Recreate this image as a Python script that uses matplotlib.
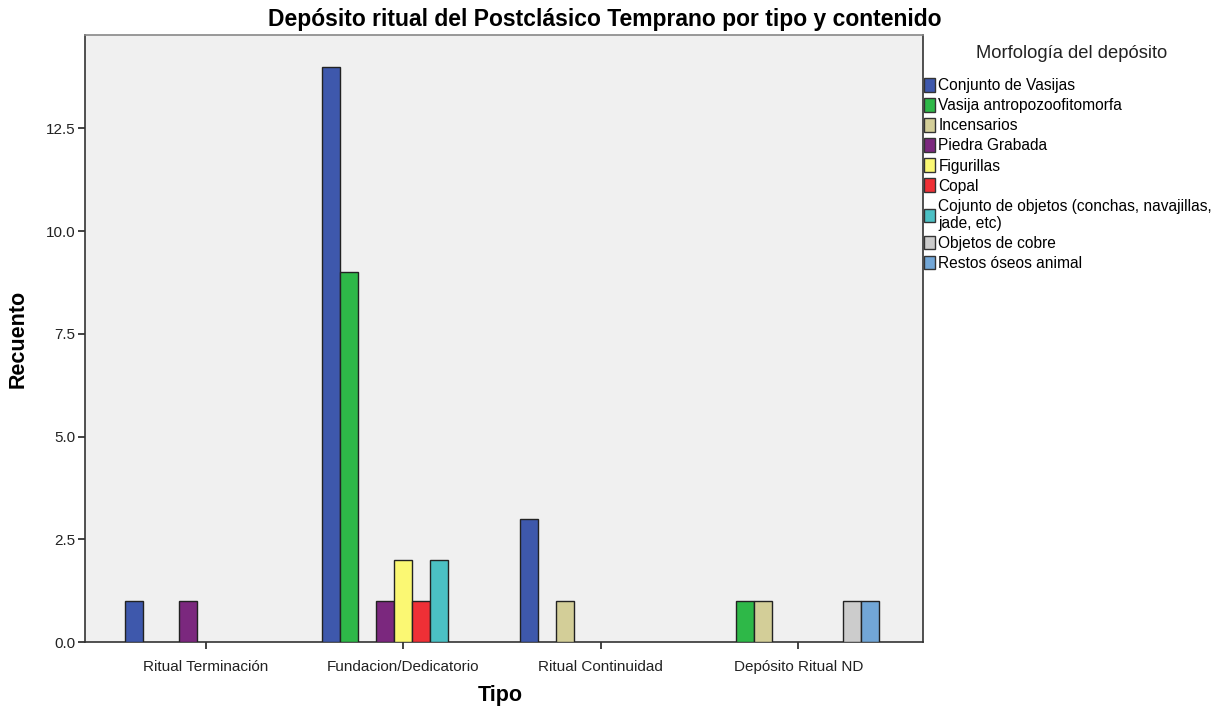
import matplotlib
matplotlib.use("Agg")
import matplotlib.pyplot as plt
from matplotlib.patches import Patch
import numpy as np

plt.rcParams['font.family'] = ['Liberation Sans', 'DejaVu Sans']

categories = ["Ritual Terminación", "Fundacion/Dedicatorio", "Ritual Continuidad", "Depósito Ritual ND"]
series = [
    "Conjunto de Vasijas",
    "Vasija antropozoofitomorfa",
    "Incensarios",
    "Piedra Grabada",
    "Figurillas",
    "Copal",
    "Cojunto de objetos (conchas, navajillas,\njade, etc)",
    "Objetos de cobre",
    "Restos óseos animal",
]
colors = ["#3E58AC", "#2EB848", "#D3CE98", "#7B287E", "#FBF873",
          "#EF3036", "#4BC0C4", "#CCCCCC", "#72A6D6"]

# counts per series, one value per category
conjunto_vasijas = [1, 14, 3, 0]
vasija_antropo = [0, 9, 0, 1]
incensarios = [0, 0, 1, 1]
piedra_grabada = [1, 1, 0, 0]
figurillas = [0, 2, 0, 0]
copal = [0, 1, 0, 0]
conjunto_objetos = [0, 2, 0, 0]
objetos_cobre = [0, 0, 0, 1]
restos_oseos = [0, 0, 0, 1]
values = [conjunto_vasijas, vasija_antropo, incensarios, piedra_grabada,
          figurillas, copal, conjunto_objetos, objetos_cobre, restos_oseos]

fig = plt.figure(figsize=(12.3, 7.11), dpi=100)
ax = fig.add_axes([85/1230, 69/711, 838/1230, 607/711])
ax.set_facecolor("#F0F0F0")

x = np.arange(len(categories))
width = 1/11
n = len(series)
for i, (vals, col) in enumerate(zip(values, colors)):
    offs = (i - (n - 1) / 2) * width
    xs = [xi + offs for xi, v in zip(x, vals) if v > 0]
    hs = [v for v in vals if v > 0]
    ax.bar(xs, hs, width=width, color=col, edgecolor="#222222", linewidth=1.0, zorder=3)

ax.set_xlim(-0.61, 3.63)
ax.set_ylim(0, 14.77)
ax.set_yticks([0, 2.5, 5, 7.5, 10, 12.5])
ax.set_yticklabels(["0.0", "2.5", "5.0", "7.5", "10.0", "12.5"])
ax.set_xticks(x)
ax.set_xticklabels(categories)
ax.tick_params(axis="both", labelsize=11, colors="#222222", length=5, width=1.2, pad=2)
ax.tick_params(axis="x", pad=8)

for side in ["left", "bottom", "right"]:
    ax.spines[side].set_color("#333333")
    ax.spines[side].set_linewidth(1.2)
ax.spines["top"].set_color("#888888")
ax.spines["top"].set_linewidth(1.2)

ax.set_ylabel("Recuento", fontsize=15.5, fontweight="bold", va="center", ha="center")
ax.yaxis.set_label_coords(-(85 - 18) / 838, 0.5)
ax.set_xlabel("Tipo", fontsize=15.5, fontweight="bold", va="center", ha="center")
ax.xaxis.set_label_coords(0.495, -(696 - 642) / 607)

fig.text(0.492, 0.972, "Depósito ritual del Postclásico Temprano por tipo y contenido",
         ha="center", va="center", fontsize=16.5, fontweight="bold")

handles = [Patch(facecolor=c, edgecolor="#333333", linewidth=1.0) for c in colors]
leg = fig.legend(handles, series, loc="upper left", bbox_to_anchor=(919/1230, 1 - 40/711),
                 frameon=False, fontsize=11.2, title="Morfología del depósito",
                 title_fontsize=13.2, handlelength=0.75, handleheight=0.95,
                 handletextpad=0.2, labelspacing=0.32, borderaxespad=0, borderpad=0.3)
leg._legend_box.align = "left"
leg._legend_box.sep = 12
leg.get_title().set_color("#222222")
leg.get_title().set_position((52, 0))

fig.savefig("out.png", dpi=100)
